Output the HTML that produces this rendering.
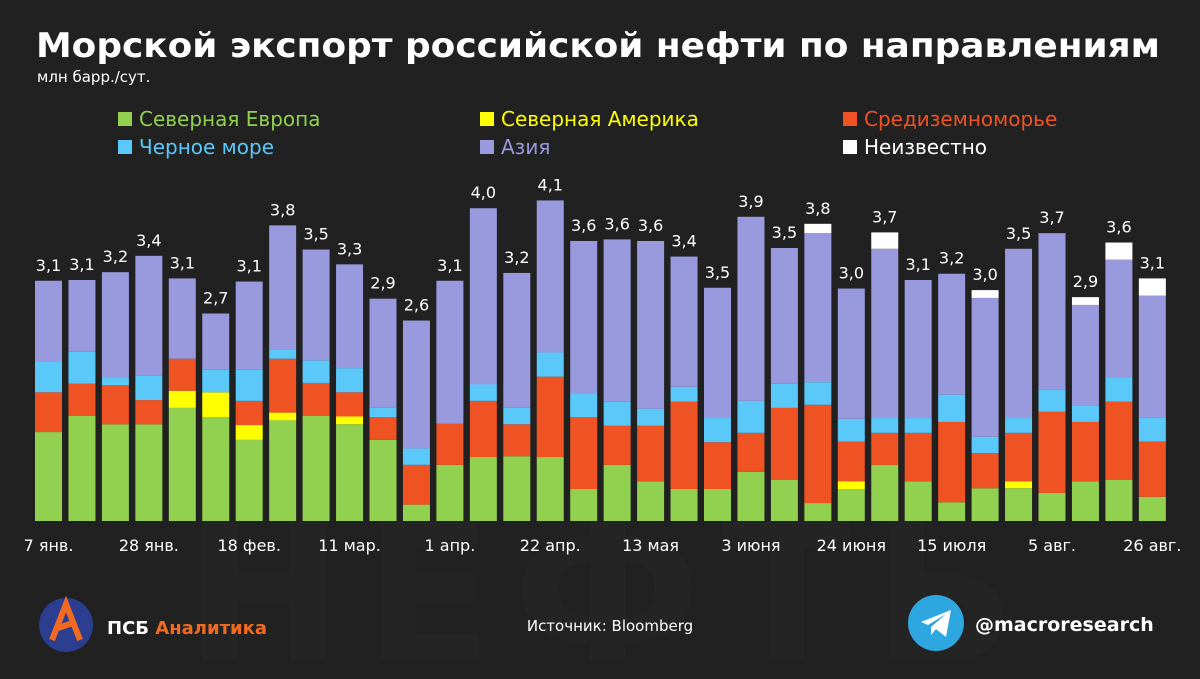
<!DOCTYPE html>
<html><head><meta charset="utf-8"><style>
body{margin:0;width:1200px;height:675px;background:#212121;overflow:hidden;font-family:"DejaVu Sans","Liberation Sans",sans-serif;color:#fff}
</style></head><body>
<svg width="1200" height="675" viewBox="0 0 1200 675" xmlns="http://www.w3.org/2000/svg" font-family="DejaVu Sans, Liberation Sans, sans-serif">
<text x="610" y="660" text-anchor="middle" font-size="190" font-weight="bold" fill="#242424" letter-spacing="20">НЕФТЬ</text>
<text x="36" y="57" font-size="34" font-weight="bold" fill="#fff" textLength="1124" lengthAdjust="spacingAndGlyphs">Морской экспорт российской нефти по направлениям</text>
<text x="37" y="82" font-size="15" fill="#fff">млн барр./сут.</text>
<g id="legend"></g>
<g id="bars"></g>
<g id="xlabels"></g>
<g>
<circle cx="66" cy="625" r="27" fill="#2c3e8f"/>
<path d="M52 640 L66 604 L80 640 M58 628 L76 622" stroke="#f26a22" stroke-width="6" fill="none"/>
</g>
<text x="107" y="634" font-size="18" font-weight="bold" fill="#fff">ПСБ <tspan fill="#f26a22">Аналитика</tspan></text>
<text x="610" y="631" text-anchor="middle" font-size="15" fill="#fff">Источник:  Bloomberg</text>
<g>
<circle cx="936" cy="623" r="28" fill="#2ea6df"/>
<path d="M921 622 L951 610 L946 637 L936 629 L931 635 L931 627 L946 614 L928 625 Z" fill="#fff"/>
</g>
<text x="975" y="631" font-size="19" font-weight="bold" fill="#fff">@macroresearch</text>
</svg>
<script>
const dates = ["7 янв.","","","28 янв.","","","18 фев.","","","11 мар.","","","1 апр.","","","22 апр.","","","13 мая","","","3 июня","","","24 июня","","","15 июля","","","5 авг.","","","26 авг."];
const totals = ["3,1","3,1","3,2","3,4","3,1","2,7","3,1","3,8","3,5","3,3","2,9","2,6","3,1","4,0","3,2","4,1","3,6","3,6","3,6","3,4","3,5","3,9","3,5","3,8","3,0","3,7","3,1","3,2","3,0","3,5","3,7","2,9","3,6","3,1"];
const northEurope = [1.14,1.35,1.24,1.24,1.45,1.33,1.04,1.29,1.35,1.24,1.04,0.21,0.72,0.82,0.83,0.82,0.41,0.72,0.51,0.41,0.41,0.63,0.53,0.23,0.41,0.72,0.51,0.24,0.42,0.42,0.36,0.51,0.53,0.31];
const northAmerica = [0,0,0,0,0.22,0.32,0.19,0.10,0,0.10,0,0,0,0,0,0,0,0,0,0,0,0,0,0,0.10,0,0,0,0,0.09,0,0,0,0];
const mediterranean = [0.51,0.41,0.50,0.31,0.41,0,0.31,0.69,0.42,0.31,0.29,0.51,0.53,0.72,0.41,1.03,0.92,0.50,0.71,1.12,0.60,0.50,0.92,1.26,0.51,0.41,0.62,1.03,0.45,0.62,1.04,0.76,1.00,0.71];
const blackSea = [0.40,0.41,0.10,0.31,0,0.29,0.40,0.12,0.29,0.31,0.12,0.21,0,0.21,0.21,0.31,0.31,0.31,0.22,0.19,0.31,0.41,0.31,0.29,0.29,0.19,0.19,0.35,0.21,0.19,0.29,0.21,0.31,0.31];
const asia = [1.03,0.92,1.35,1.54,1.03,0.72,1.13,1.59,1.42,1.33,1.40,1.64,1.83,2.26,1.73,1.95,1.95,2.08,2.15,1.67,1.67,2.36,1.74,1.91,1.67,2.17,1.77,1.55,1.78,2.17,2.00,1.29,1.51,1.56];
const unknown = [0,0,0,0,0,0,0,0,0,0,0,0,0,0,0,0,0,0,0,0,0,0,0,0.12,0,0.21,0,0,0.10,0,0,0.10,0.22,0.22];
const seriesNames = ["Северная Европа","Северная Америка","Средиземноморье","Черное море","Азия","Неизвестно"];
const series = [northEurope,northAmerica,mediterranean,blackSea,asia,unknown];
const colors = ["#92d050","#ffff00","#f05323","#5bc8fa","#9999dd","#ffffff"];
const slugs = ["north-europe","north-america","mediterranean","black-sea","asia","unknown"];
const NS="http://www.w3.org/2000/svg";
const base=521, scale=78, x0=35, pitch=33.45, bw=27;
const xPos=i=>x0+i*pitch;
const yPos=v=>base-v*scale;
const barsG=document.getElementById('bars'), xl=document.getElementById('xlabels'), lg=document.getElementById('legend');
for(let i=0;i<dates.length;i++){
  let cum=0;
  for(let s=0;s<series.length;s++){
    const v=series[s][i]; if(!v) continue;
    const r=document.createElementNS(NS,'rect');
    r.setAttribute('x',xPos(i)); r.setAttribute('width',bw);
    r.setAttribute('y',yPos(cum+v)); r.setAttribute('height',v*scale);
    r.setAttribute('fill',colors[s]);
    
    
    barsG.appendChild(r); cum+=v;
  }
  const t=document.createElementNS(NS,'text');
  t.setAttribute('x',xPos(i)+bw/2); t.setAttribute('y',yPos(cum)-10);
  t.setAttribute('text-anchor','middle'); t.setAttribute('font-size','16'); t.setAttribute('fill','#fff');
  t.textContent=totals[i];
  
  
  barsG.appendChild(t);
  if(dates[i]){
    const d=document.createElementNS(NS,'text');
    d.setAttribute('x',xPos(i)+bw/2); d.setAttribute('y',551);
    d.setAttribute('text-anchor','middle'); d.setAttribute('font-size','16'); d.setAttribute('fill','#fff');
    d.textContent=dates[i];
    
    
    xl.appendChild(d);
  }
}
const lx=[118,480,843], ly=[125,153];
[0,1,2,3,4,5].forEach((s,k)=>{
  const col=k%3,row=Math.floor(k/3);
  const g=document.createElementNS(NS,'g');
  
  
  const r=document.createElementNS(NS,'rect');
  r.setAttribute('x',lx[col]); r.setAttribute('y',ly[row]-13); r.setAttribute('width',14); r.setAttribute('height',14);
  r.setAttribute('fill',colors[s]);
  const t=document.createElementNS(NS,'text');
  t.setAttribute('x',lx[col]+21); t.setAttribute('y',ly[row]+1); t.setAttribute('font-size','20');
  t.setAttribute('fill',colors[s]); t.textContent=seriesNames[s];
  g.appendChild(r); g.appendChild(t); lg.appendChild(g);
});
</script>
</body></html>
